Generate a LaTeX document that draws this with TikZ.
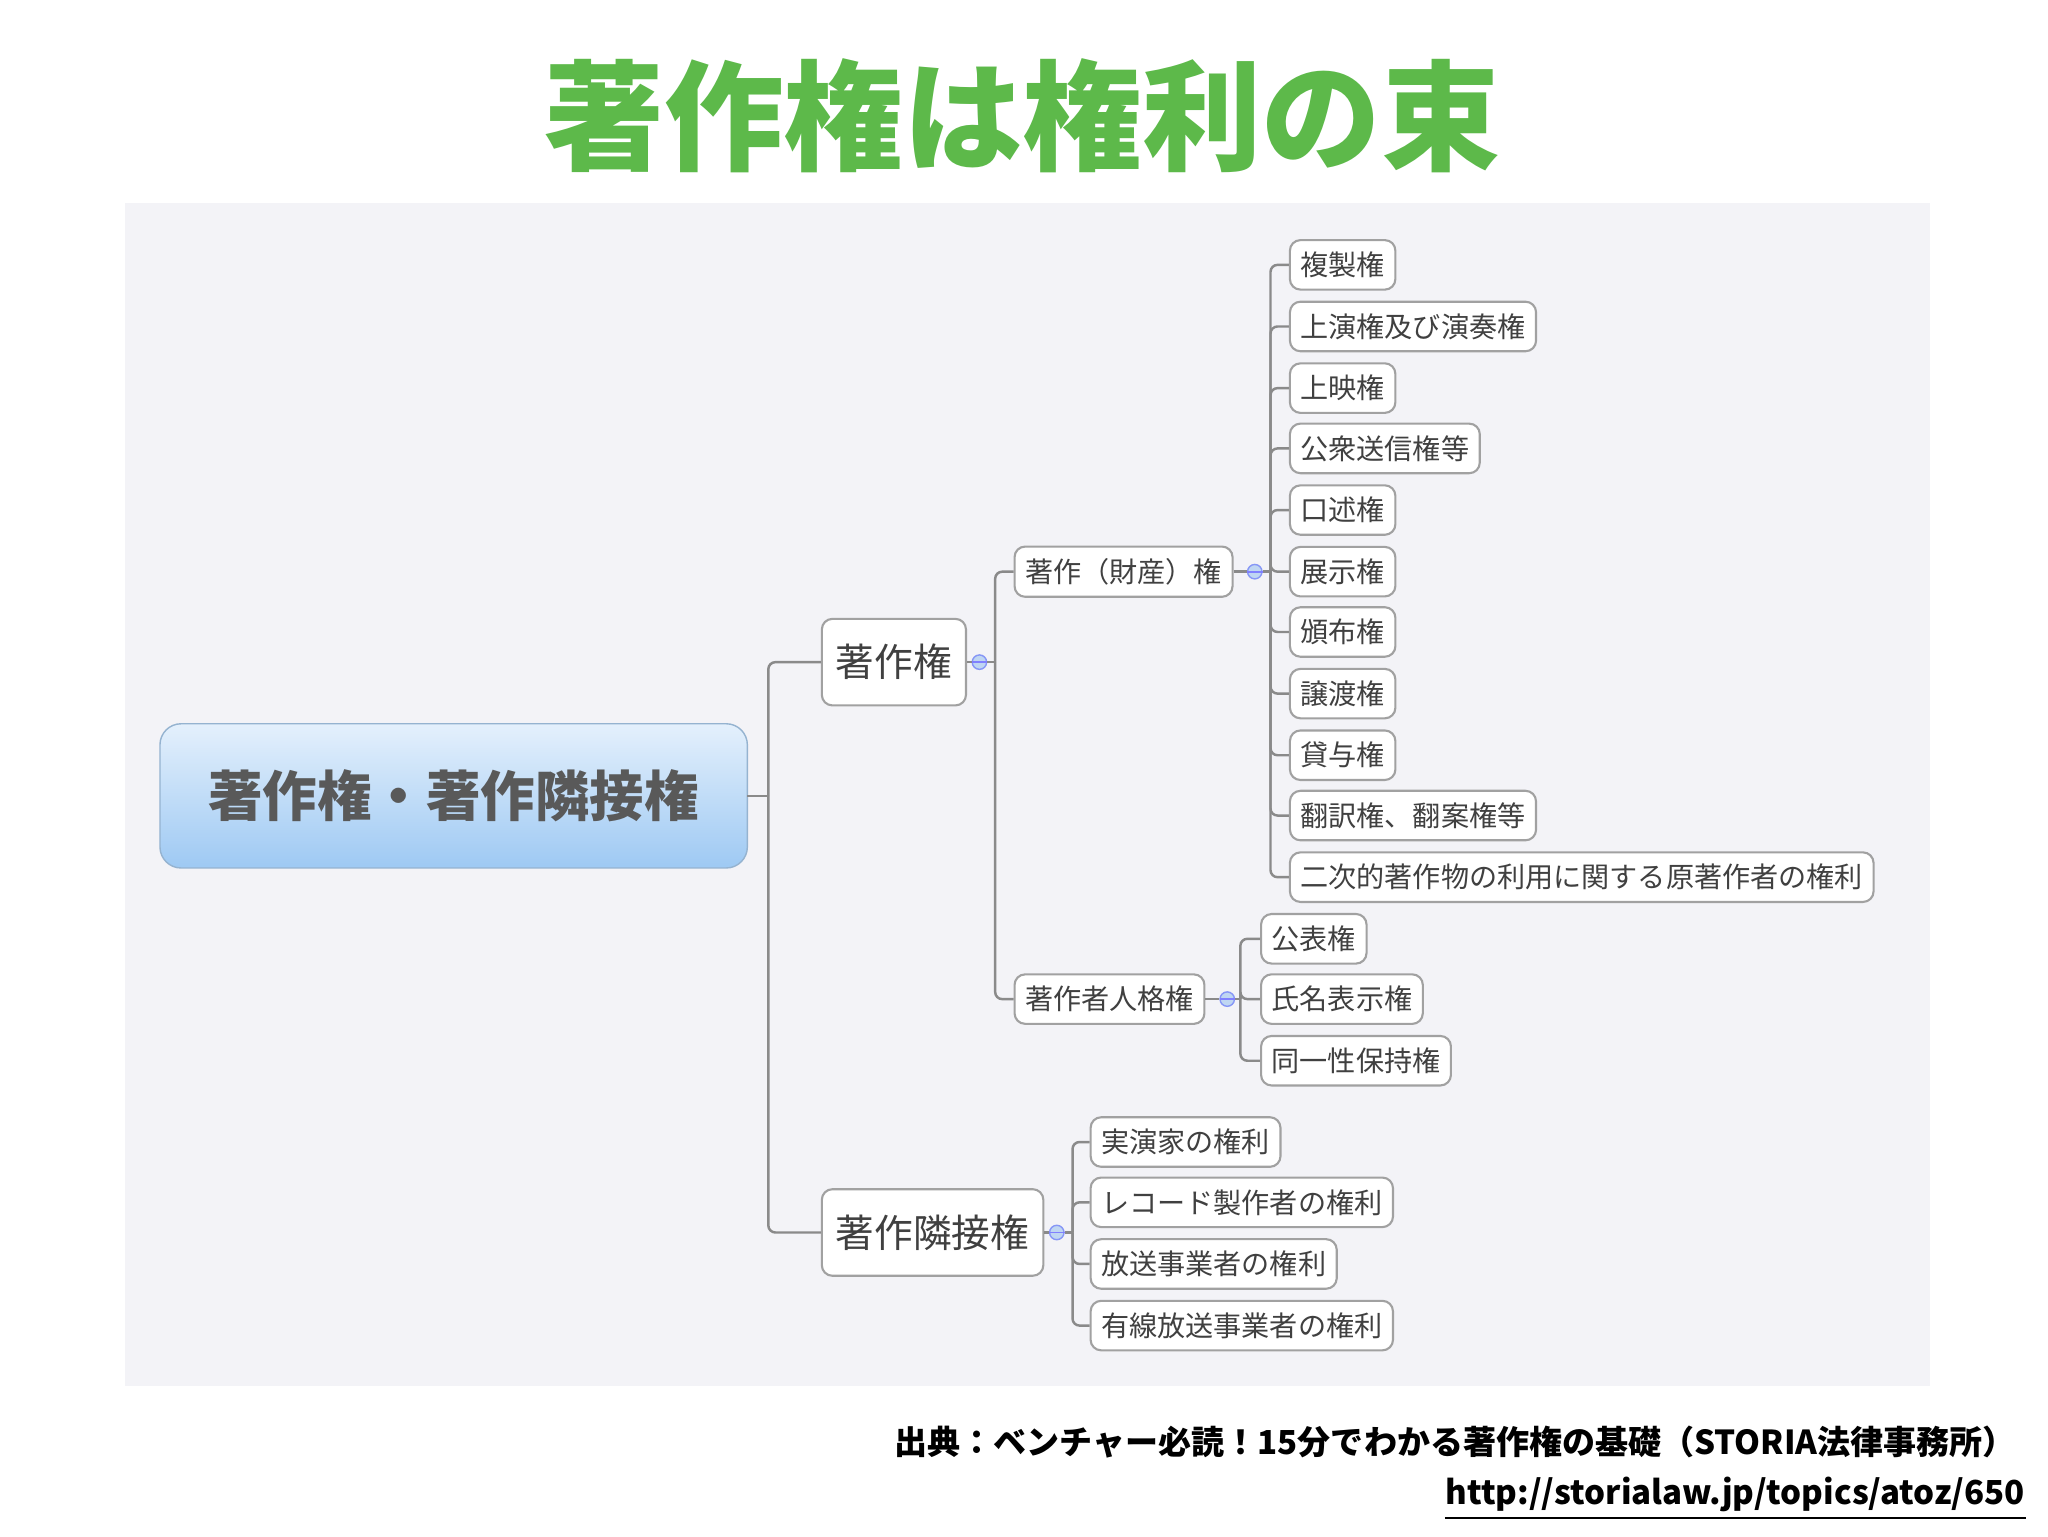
\documentclass[tikz,border=0pt]{standalone}
\usepackage{fontspec}
\setmainfont{Noto Sans CJK JP}
\usetikzlibrary{shadings}
\definecolor{ttl}{HTML}{5DB94A}
\definecolor{bgg}{HTML}{F3F3F7}
\definecolor{lin}{HTML}{8A8A8A}
\definecolor{mk}{HTML}{BFD6F2}
\definecolor{rtop}{HTML}{E4F0FC}
\definecolor{rbot}{HTML}{9EC9F3}
\begin{document}
\begin{tikzpicture}[x=0.013111cm,y=-0.013111cm,
 box/.style={draw=lin!80,fill=white,rounded corners=3pt,line width=0.6pt,anchor=west,inner xsep=3pt,text=black!75},
 leaf/.style={box,font=\fontsize{8}{9}\selectfont,minimum height=37*0.013111cm},
 midb/.style={box,font=\fontsize{11}{12}\selectfont,minimum height=66*0.013111cm,inner xsep=4pt},
 marker/.style={circle,draw=mk!70!blue,fill=mk,inner sep=0pt,minimum size=11*0.013111cm},
 con/.style={draw=lin,line width=0.7pt}]
\useasboundingbox (0,0) rectangle (1562,1171.5);
\fill[bgg] (95,155) rectangle (1472,1057);
\node[text=ttl,font=\fontsize{34}{36}\selectfont\bfseries] (title) at (780,88) {著作権は権利の束};
% root
\shade[top color=rtop,bottom color=rbot,rounded corners=6pt,draw=rbot!70!gray] (122,552) rectangle (570,662);
\node[font=\fontsize{15.5}{17}\selectfont\bfseries,text=black!65] (root) at (346,607) {著作権・著作隣接権};
\coordinate (rootE) at (570,607);
\node[midb] (ch) at (626,505) {著作権};
\node[midb] (rin) at (626,940) {著作隣接権};
\draw[con] (rootE) -- (586,607);
\draw[con,rounded corners=2pt] (586,607) |- (ch.west);
\draw[con,rounded corners=2pt] (586,607) |- (rin.west);
\node[marker] (m1) at (747,505) {};
\node[marker] (m2) at (806,940) {};
\draw[con] (ch.east) -- (m1);
\draw[con] (rin.east) -- (m2);
\node[leaf] (zai) at (773,436) {著作（財産）権};
\node[leaf] (jin) at (773,762) {著作者人格権};
\draw[con] (m1) -- (759,505);
\draw[con,rounded corners=2pt] (759,505) |- (zai.west);
\draw[con,rounded corners=2pt] (759,505) |- (jin.west);
\node[marker] (m3) at (957,436) {};
\node[marker] (m4) at (936,762) {};
\draw[con] (zai.east) -- (m3);
\draw[con] (jin.east) -- (m4);
\foreach \t/\y [count=\i] in {複製権/202,上演権及び演奏権/249,上映権/296,公衆送信権等/342,口述権/389,展示権/436,頒布権/482,譲渡権/529,貸与権/576,翻訳権、翻案権等/622,二次的著作物の利用に関する原著作者の権利/669}{
 \node[leaf] (z\i) at (983,\y) {\t};
 \draw[con,rounded corners=2pt] (969,436) |- (z\i.west);
}
\draw[con] (m3) -- (969,436);
\foreach \t/\y [count=\i] in {公表権/716,氏名表示権/762,同一性保持権/809}{
 \node[leaf] (j\i) at (961,\y) {\t};
 \draw[con,rounded corners=2pt] (946,762) |- (j\i.west);
}
\draw[con] (m4) -- (946,762);
\foreach \t/\y [count=\i] in {実演家の権利/871,レコード製作者の権利/917,放送事業者の権利/964,有線放送事業者の権利/1011}{
 \node[leaf] (r\i) at (831,\y) {\t};
 \draw[con,rounded corners=2pt] (818,940) |- (r\i.west);
}
\draw[con] (m2) -- (818,940);
\foreach \m in {m1,m2,m3,m4}{\draw[blue!50,line width=0.5pt] ([xshift=-2.2pt]\m.center) -- ([xshift=2.2pt]\m.center);}
% source
\node[anchor=east,font=\fontsize{9.4}{11}\selectfont\bfseries] (src) at (1547,1100) {出典：ベンチャー必読！15分でわかる著作権の基礎（STORIA法律事務所）};
\node[anchor=east,font=\fontsize{9.4}{11}\selectfont\bfseries,inner sep=0pt] (url) at (1545,1140) {http://storialaw.jp/topics/atoz/650};
\draw[line width=0.8pt] ([yshift=-1.5pt]url.south west) -- ([yshift=-1.5pt]url.south east);
\end{tikzpicture}
\end{document}
